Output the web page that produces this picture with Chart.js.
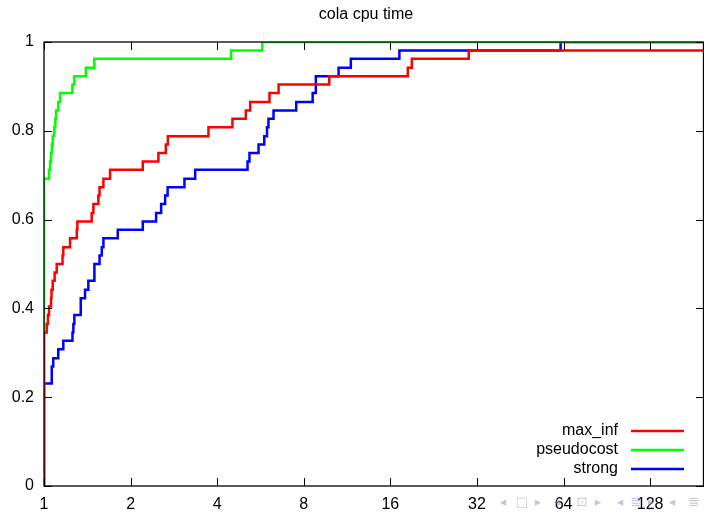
<!DOCTYPE html>
<html>
<head>
<meta charset="utf-8">
<script src="https://cdn.jsdelivr.net/npm/chart.js@4/dist/chart.umd.min.js"></script>
<style>
  html, body { margin: 0; padding: 0; background: #fff; }
  #wrap { width: 704px; height: 512px; }
</style>
</head>
<body>
<div id="wrap"><canvas id="myChart"></canvas></div>
<script>
// performance profile, x = ratio to best (log2 axis), y = fraction of instances
const xTicks = [1, 2, 4, 8, 16, 32, 64, 128];

const maxInfX = [1, 1, 1.022, 1.032, 1.041, 1.058, 1.062, 1.072, 1.089, 1.107, 1.16, 1.167, 1.232, 1.30, 1.306,
    1.465, 1.485, 1.545, 1.56, 1.609, 1.697, 2.205, 2.499, 2.652, 2.695, 3.73, 4.52, 5.03, 5.21, 6.08, 6.54,
    9.81, 18.4, 19.0, 29.97, 197];
const maxInfY = [0, 0.346, 0.365, 0.385, 0.404, 0.423, 0.442, 0.462, 0.481, 0.5, 0.519, 0.538, 0.558, 0.577, 0.596,
    0.615, 0.635, 0.654, 0.673, 0.692, 0.712, 0.731, 0.75, 0.769, 0.788, 0.808, 0.827, 0.846, 0.865, 0.885, 0.904,
    0.923, 0.942, 0.962, 0.981, 0.981];

const pseudocostX = [1, 1, 1.041, 1.05, 1.058, 1.065, 1.072, 1.086, 1.095, 1.101, 1.121, 1.137, 1.255, 1.275,
    1.397, 1.496, 4.47, 5.74, 197];
const pseudocostY = [0, 0.692, 0.712, 0.731, 0.75, 0.769, 0.788, 0.808, 0.827, 0.846, 0.865, 0.885, 0.904, 0.923,
    0.942, 0.962, 0.981, 1, 1];

const strongX = [1, 1, 1.064, 1.064, 1.077, 1.121, 1.167, 1.256, 1.265, 1.275, 1.342, 1.342, 1.389, 1.426, 1.497,
    1.497, 1.56, 1.588, 1.609, 1.805, 2.205, 2.453, 2.554, 2.637, 2.69, 3.078, 3.354, 5.10, 5.18, 5.57, 5.83,
    5.96, 6.03, 6.28, 7.53, 8.59, 8.81, 8.81, 10.57, 11.66, 17.2, 62.5, 197];
const strongY = [0, 0.231, 0.25, 0.269, 0.288, 0.308, 0.327, 0.346, 0.365, 0.385, 0.404, 0.423, 0.442, 0.462, 0.481,
    0.5, 0.519, 0.538, 0.558, 0.577, 0.596, 0.615, 0.635, 0.654, 0.673, 0.692, 0.712, 0.731, 0.75, 0.769, 0.788,
    0.808, 0.827, 0.846, 0.865, 0.885, 0.904, 0.923, 0.942, 0.962, 0.981, 1, 1];

const FONT = 'Liberation Sans, Arial, Helvetica, sans-serif';

function points(xs, ys) {
    return xs.map((x, i) => ({ x: x, y: ys[i] }));
}

function series(label, color, xs, ys) {
    return {
        label: label,
        data: points(xs, ys),
        borderColor: color,
        backgroundColor: color,
        borderWidth: 2.5,
        pointRadius: 0,
        stepped: 'before',
        fill: false,
    };
}

// gnuplot style box with ticks pointing inwards
const frame = {
    id: 'frame',
    afterLayout(chart) {
        // gnuplot centres the title a bit left of the plot middle
        if (chart.titleBlock) chart.titleBlock.left = 28;
    },
    afterDatasetsDraw(chart) {
        const { ctx, chartArea: a, scales } = chart;
        ctx.save();
        ctx.strokeStyle = '#000';
        ctx.lineWidth = 1;
        ctx.beginPath();
        scales.x.ticks.forEach(t => {
            const px = Math.round(scales.x.getPixelForValue(t.value)) + 0.5;
            ctx.moveTo(px, a.bottom); ctx.lineTo(px, a.bottom - 8);
            ctx.moveTo(px, a.top); ctx.lineTo(px, a.top + 8);
        });
        scales.y.ticks.forEach(t => {
            const py = Math.round(scales.y.getPixelForValue(t.value)) + 0.5;
            ctx.moveTo(a.left, py); ctx.lineTo(a.left + 8, py);
            ctx.moveTo(a.right, py); ctx.lineTo(a.right - 8, py);
        });
        ctx.stroke();
        ctx.lineWidth = 1.3;
        ctx.strokeRect(a.left, a.top, a.right - a.left - 0.5, a.bottom - a.top);
        ctx.restore();
    },
    afterDraw(chart) {
        const ctx = chart.ctx;
        ctx.save();
        // key, bottom right
        ctx.font = '16px ' + FONT;
        ctx.textAlign = 'right';
        ctx.textBaseline = 'middle';
        chart.data.datasets.forEach((ds, i) => {
            const y = 431 + i * 19;
            ctx.fillStyle = '#000';
            ctx.fillText(ds.label, 618, y);
            ctx.strokeStyle = ds.borderColor;
            ctx.lineWidth = 2.5;
            ctx.beginPath();
            ctx.moveTo(631, y);
            ctx.lineTo(684, y);
            ctx.stroke();
        });
        // faint beamer navigation symbols
        ctx.font = '13px DejaVu Sans';
        ctx.textAlign = 'center';
        ctx.fillStyle = 'rgba(150,150,190,0.55)';
        [['◂', 503], ['□', 522], ['▸', 538], ['◂', 557], ['⊡', 582], ['▸', 598], ['◂', 620], ['≣', 636], ['▸', 651], ['◂', 672], ['≣', 694]]
            .forEach(([g, x]) => ctx.fillText(g, x, 503));
        ctx.restore();
    }
};

const config = {
    type: 'line',
    data: {
        datasets: [
            series('max_inf', '#ff0000', maxInfX, maxInfY),
            series('pseudocost', '#00ff00', pseudocostX, pseudocostY),
            series('strong', '#0000ff', strongX, strongY),
        ],
    },
    options: {
        responsive: true,
        maintainAspectRatio: false,
        animation: false,
        layout: { padding: 0 },
        scales: {
            x: {
                type: 'logarithmic',
                min: 1,
                max: 197,
                grid: { display: false, drawTicks: false },
                border: { display: false },
                afterBuildTicks: scale => { scale.ticks = xTicks.map(v => ({ value: v })); },
                afterFit: scale => { scale.height = 26; },
                ticks: {
                    autoSkip: false,
                    maxRotation: 0,
                    padding: 9,
                    color: '#000',
                    font: { family: FONT, size: 16 },
                    callback: v => String(v),
                },
            },
            y: {
                min: 0,
                max: 1,
                grid: { display: false, drawTicks: false },
                border: { display: false },
                afterFit: scale => { scale.width = 44; },
                ticks: {
                    stepSize: 0.2,
                    padding: 10,
                    color: '#000',
                    font: { family: FONT, size: 16 },
                    callback: v => String(Math.round(v * 10) / 10),
                },
            },
        },
        plugins: {
            legend: { display: false },
            tooltip: { enabled: false },
            title: {
                display: true,
                text: 'cola cpu time',
                color: '#000',
                font: { family: FONT, size: 16, weight: 'normal' },
                padding: { top: 5, bottom: 17.8 },
            },
        },
    },
    plugins: [frame],
};

const ctx = document.getElementById('myChart').getContext('2d');
const myChart = new Chart(ctx, config);
</script>
</body>
</html>
